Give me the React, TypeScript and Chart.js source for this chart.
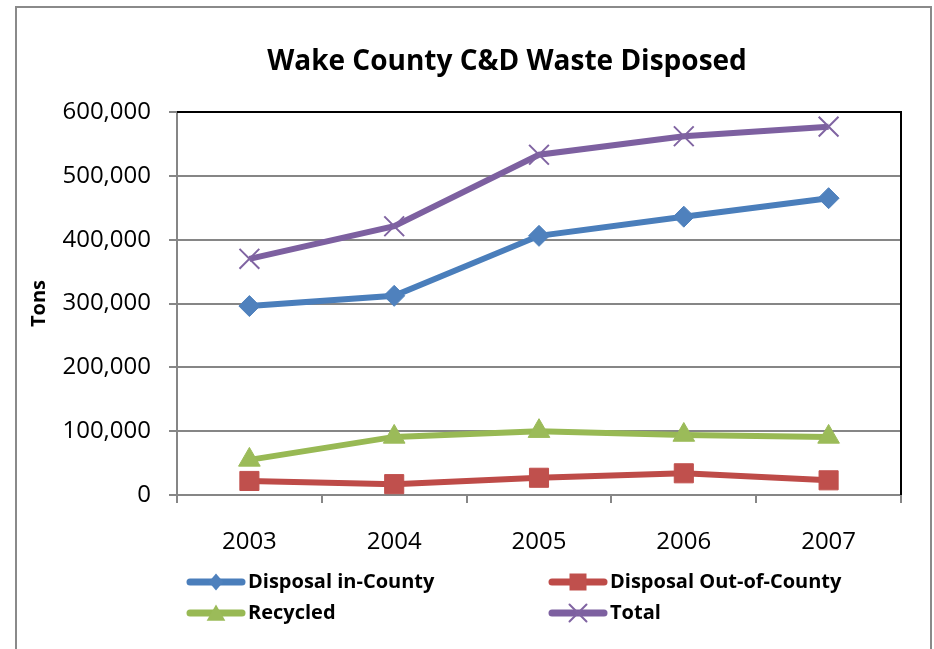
import React, { useEffect, useRef } from 'react';
import { Chart, registerables } from 'chart.js';

Chart.register(...registerables);

const years = ['2003', '2004', '2005', '2006', '2007'];
const inCounty = [296000, 312000, 406000, 436000, 465000];
const outCounty = [22000, 17000, 27000, 34000, 23000];
const recycled = [55000, 91000, 100000, 94000, 91000];
const total = [370000, 421000, 533000, 562000, 577000];
const seriesNames = ['Disposal in-County', 'Disposal Out-of-County', 'Recycled', 'Total'];
const titleText = 'Wake County C&D Waste Disposed';
const yAxisTitle = 'Tons';

const FONT = "'Open Sans', 'DejaVu Sans', sans-serif";
const W = 934;
const H = 649;

const LEGEND_X = [187, 549];
const LEGEND_Y = [582, 613];
const TITLE_X = 507;
const TITLE_Y = 62;

function drawMarker(ctx: CanvasRenderingContext2D, style: string, x: number, y: number, r: number, color: string) {
  ctx.save();
  ctx.fillStyle = color;
  ctx.strokeStyle = color;
  ctx.beginPath();
  if (style === 'rectRot') {
    ctx.moveTo(x, y - r);
    ctx.lineTo(x + r * 0.85, y);
    ctx.lineTo(x, y + r);
    ctx.lineTo(x - r * 0.85, y);
    ctx.closePath();
    ctx.fill();
  } else if (style === 'rect') {
    ctx.rect(x - r, y - r, 2 * r, 2 * r);
    ctx.fill();
  } else if (style === 'triangle') {
    ctx.moveTo(x, y - r);
    ctx.lineTo(x + r * 1.1, y + r * 0.9);
    ctx.lineTo(x - r * 1.1, y + r * 0.9);
    ctx.closePath();
    ctx.fill();
  } else if (style === 'crossRot') {
    ctx.lineWidth = 2;
    ctx.moveTo(x - r, y - r);
    ctx.lineTo(x + r, y + r);
    ctx.moveTo(x + r, y - r);
    ctx.lineTo(x - r, y + r);
    ctx.stroke();
  }
  ctx.restore();
}

const frameBgPlugin = {
  id: 'frameBg',
  beforeDraw(chart: any) {
    const ctx = chart.ctx as CanvasRenderingContext2D;
    ctx.save();
    ctx.fillStyle = '#ffffff';
    ctx.fillRect(0, 0, chart.width, chart.height);
    ctx.strokeStyle = '#8a8a8a';
    ctx.lineWidth = 2;
    ctx.beginPath();
    ctx.moveTo(16, H + 10);
    ctx.lineTo(16, 7);
    ctx.lineTo(931, 7);
    ctx.lineTo(931, H + 10);
    ctx.stroke();
    ctx.fillStyle = '#000';
    ctx.font = `bold 28px ${FONT}`;
    ctx.textAlign = 'center';
    ctx.textBaseline = 'middle';
    ctx.fillText(titleText, TITLE_X, TITLE_Y);
    ctx.restore();
  },
};

const plotBorderPlugin = {
  id: 'plotBorder',
  beforeDatasetsDraw(chart: any) {
    const { ctx, chartArea } = chart;
    ctx.save();
    ctx.strokeStyle = '#000000';
    ctx.lineWidth = 2;
    ctx.beginPath();
    ctx.moveTo(chartArea.left, chartArea.top);
    ctx.lineTo(chartArea.right, chartArea.top);
    ctx.lineTo(chartArea.right, chartArea.bottom);
    ctx.stroke();
    ctx.restore();
  },
};

const legendPlugin = {
  id: 'gridLegend',
  afterDraw(chart: any) {
    const ctx = chart.ctx as CanvasRenderingContext2D;
    chart.data.datasets.forEach((ds: any, i: number) => {
      const col = i % 2;
      const row = Math.floor(i / 2);
      const x0 = LEGEND_X[col];
      const y = LEGEND_Y[row];
      ctx.save();
      ctx.strokeStyle = ds.borderColor;
      ctx.lineWidth = 7;
      ctx.lineCap = 'round';
      ctx.beginPath();
      ctx.moveTo(x0 + 3, y);
      ctx.lineTo(x0 + 55, y);
      ctx.stroke();
      drawMarker(ctx, ds.pointStyle, x0 + 29, y, 8.5, ds.pointBackgroundColor);
      ctx.fillStyle = '#000';
      ctx.font = `bold 20px ${FONT}`;
      ctx.textBaseline = 'middle';
      ctx.textAlign = 'left';
      ctx.fillText(ds.label, x0 + 61, y);
      ctx.restore();
    });
  },
};

export default function App() {
  const ref = useRef<HTMLCanvasElement>(null);

  useEffect(() => {
    if (!ref.current) return;
    const chart = new Chart(ref.current, {
      type: 'line',
      data: {
        labels: years,
        datasets: [
          {
            label: seriesNames[0],
            data: inCounty,
            borderColor: '#4A7EBB',
            backgroundColor: '#4F81BD',
            pointBackgroundColor: '#4F81BD',
            pointBorderColor: '#4F81BD',
            pointStyle: 'rectRot',
            pointRadius: 10.5,
            pointBorderWidth: 1,
            borderWidth: 6,
          },
          {
            label: seriesNames[1],
            data: outCounty,
            borderColor: '#BE4B48',
            backgroundColor: '#C0504D',
            pointBackgroundColor: '#C0504D',
            pointBorderColor: '#C0504D',
            pointStyle: 'rect',
            pointRadius: 13.5,
            pointBorderWidth: 1,
            borderWidth: 6,
          },
          {
            label: seriesNames[2],
            data: recycled,
            borderColor: '#98B954',
            backgroundColor: '#9BBB59',
            pointBackgroundColor: '#9BBB59',
            pointBorderColor: '#9BBB59',
            pointStyle: 'triangle',
            pointRadius: 12.5,
            pointBorderWidth: 1,
            borderWidth: 6,
          },
          {
            label: seriesNames[3],
            data: total,
            borderColor: '#7D60A0',
            backgroundColor: '#8064A2',
            pointBackgroundColor: '#8064A2',
            pointBorderColor: '#8064A2',
            pointStyle: 'crossRot',
            pointRadius: 14,
            pointBorderWidth: 2,
            borderWidth: 6,
          },
        ],
      },
      options: {
        animation: false,
        responsive: false,
        devicePixelRatio: 1,
        layout: { padding: { left: 0, right: 33, top: 112, bottom: 94 } },
        plugins: {
          legend: { display: false },
          tooltip: { enabled: false },
          title: { display: false },
        },
        scales: {
          x: {
            offset: true,
            grid: {
              display: true,
              offset: true,
              drawOnChartArea: false,
              drawTicks: true,
              tickLength: 8,
              color: '#868686',
              lineWidth: 2,
            },
            border: { display: true, color: '#868686', width: 2 },
            ticks: {
              color: '#000',
              font: { family: FONT, size: 24 },
              padding: 25,
              maxRotation: 0,
            },
            afterFit: (s: any) => {
              s.height = 60;
            },
          },
          y: {
            min: 0,
            max: 600000,
            grid: {
              color: '#868686',
              lineWidth: 2,
              drawTicks: true,
              tickLength: 8,
            },
            border: { display: true, color: '#868686', width: 2 },
            ticks: {
              stepSize: 100000,
              color: '#000',
              font: { family: FONT, size: 24 },
              padding: 18,
              callback: (v: any) => Number(v).toLocaleString('en-US'),
            },
            title: {
              display: true,
              text: yAxisTitle,
              color: '#000',
              font: { family: FONT, size: 20, weight: 'bold' },
              padding: { top: 27, bottom: 0 },
            },
            afterFit: (s: any) => {
              s.width = 177;
            },
          },
        },
      },
      plugins: [frameBgPlugin, plotBorderPlugin, legendPlugin],
    });
    return () => chart.destroy();
  }, []);

  return (
    <div style={{ position: 'fixed', left: 0, top: 0, width: W, height: H, background: '#fff' }}>
      <canvas ref={ref} width={W} height={H} style={{ display: 'block', width: W, height: H }} />
    </div>
  );
}
